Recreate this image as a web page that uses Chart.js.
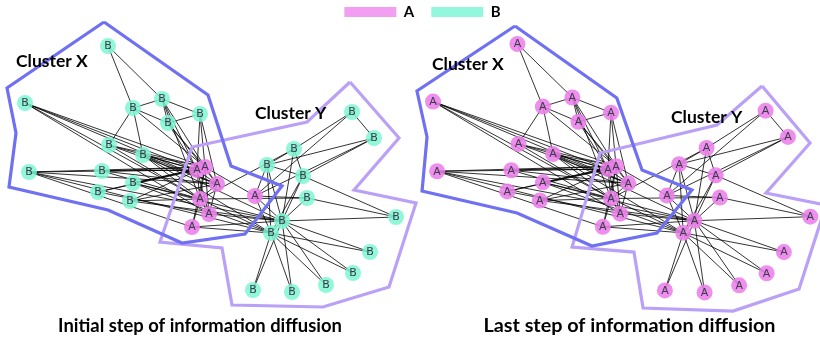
<!DOCTYPE html>
<html>
<head>
<meta charset="utf-8">
<script src="https://cdn.jsdelivr.net/npm/chart.js@4.4.1/dist/chart.umd.min.js"></script>
<style>
  html, body { margin: 0; padding: 0; background: #ffffff; }
  #wrap { width: 820px; height: 339px; }
</style>
</head>
<body>
<div id="wrap"><canvas id="net" width="820" height="339"></canvas></div>
<script>
// Node layout (34 members of the network), shared by both panels
const nodeIds = [0,1,2,3,4,5,6,7,8,9,10,11,12,13,14,15,16,17,18,19,20,21,22,23,24,25,26,27,28,29,30,31,32,33];
const nodeX = [205,197,200,217,200,133,162,25,192,133,168,98,130,209,253,292,108,109,326,143,353,102,370,267,352,374,396,294,307,303,29,255,271,282];
const nodeY = [167,170,199,184,114,108,99,103,227,183,123,192,201,214,290,292,46,145,285,155,273,171,252,165,112,138,217,149,198,176,172,196,233,221];

// Opinion held by each node at the first and at the last step
const initialState = ['A','A','A','A','B','B','B','B','A','B','B','B','B','A','B','B','B','B','B','B','B','B','B','B','B','B','B','B','B','B','B','A','B','B'];
const finalState   = ['A','A','A','A','A','A','A','A','A','A','A','A','A','A','A','A','A','A','A','A','A','A','A','A','A','A','A','A','A','A','A','A','A','A'];

// Undirected links between nodes
const edges = [
  [0,1],[0,2],[0,3],[0,4],[0,5],[0,6],[0,7],[0,8],[0,9],[0,10],[0,11],[0,12],[0,13],[0,17],[0,19],[0,21],[0,30],[0,31],
  [1,2],[1,3],[1,4],[1,6],[1,7],[1,9],[1,10],[1,11],[1,13],[1,17],[1,19],[1,21],[1,30],
  [2,3],[2,6],[2,7],[2,8],[2,9],[2,12],[2,13],[2,17],[2,19],[2,21],[2,27],[2,28],[2,32],
  [3,4],[3,7],[3,10],[3,12],[3,13],[3,17],[3,19],[3,21],[3,30],
  [4,6],[4,10],
  [5,6],[5,10],[5,16],[5,17],[5,19],
  [6,10],[6,16],
  [7,13],
  [8,30],[8,32],[8,33],
  [9,32],[9,33],
  [11,13],
  [12,33],
  [13,33],
  [14,32],[14,33],[15,32],[15,33],[18,32],[18,33],
  [19,32],[19,33],
  [20,32],[20,33],[22,32],[22,33],
  [23,25],[23,27],[23,29],[23,31],[23,32],[23,33],
  [24,25],[24,27],[24,31],
  [25,29],[25,31],
  [26,28],[26,29],[26,33],
  [27,29],[27,33],
  [28,31],[28,33],
  [29,32],[29,33],
  [30,32],[30,33],
  [31,32],[31,33],
  [32,33]
];

// Community outlines (vertices in each panel's own layout units)
const clusterXInitial = [[104,22],[208,95],[231,166],[282,186],[245,234],[182,243],[108,210],[9,187],[16,133],[7,88]];
const clusterYInitial = [[350,82],[399,138],[354,190],[416,203],[389,287],[323,307],[232,305],[222,248],[160,242],[192,147],[307,122]];
const clusterXLast = [[105.6,28.2],[205.7,99.5],[230.5,170.8],[279.6,190.6],[245.2,233.2],[181.3,246],[107.6,213.4],[14.2,191.6],[19.1,138.1],[9.2,92.6]];
const clusterYLast = [[348.5,87.6],[395.7,144.1],[352.4,193.6],[411.4,205.4],[384.9,288.6],[320,310.4],[231.5,307.4],[222.6,252],[161.7,247],[189.2,154],[304.2,126.2]];

const stateNames = ['A', 'B'];

// ---- styling ----
const FONT = 'Lato, "Open Sans", "Liberation Sans", sans-serif';
const nodeColor = { A: 'rgba(236,128,236,0.88)', B: 'rgba(124,246,210,0.85)' };
const legendColor = { A: '#f29ff2', B: '#93f7dd' };
const blueOutline = 'rgb(112,112,242)';
const purpleOutline = 'rgb(186,160,246)';
const edgeColor = 'rgba(0,0,0,0.8)';

function nodePoints(states, want) {
  const pts = [];
  nodeIds.forEach((id, i) => {
    if (states[i] === want) pts.push({ x: nodeX[i], y: nodeY[i], s: states[i] });
  });
  return pts;
}

function edgePoints() {
  const pts = [];
  edges.forEach(([a, b]) => {
    pts.push({ x: nodeX[a], y: nodeY[a] });
    pts.push({ x: nodeX[b], y: nodeY[b] });
    pts.push({ x: null, y: null });
  });
  return pts;
}

function outline(vertices) {
  const pts = vertices.map(([x, y]) => ({ x, y }));
  pts.push({ x: vertices[0][0], y: vertices[0][1] });
  return pts;
}

function outlineDataset(vertices, color, xAxisID, yAxisID) {
  return {
    type: 'scatter', data: outline(vertices), showLine: true, spanGaps: false,
    borderColor: color, borderWidth: 3.2, pointRadius: 0, borderJoinStyle: 'miter',
    clip: false, xAxisID, yAxisID
  };
}

function edgeDataset(xAxisID, yAxisID) {
  return {
    type: 'scatter', data: edgePoints(), showLine: true, spanGaps: false,
    borderColor: edgeColor, borderWidth: 1, pointRadius: 0,
    clip: false, xAxisID, yAxisID
  };
}

function nodeDatasets(states, xAxisID, yAxisID) {
  return stateNames
    .map(s => ({
      label: s, type: 'scatter', data: nodePoints(states, s), isNode: true,
      pointRadius: 8, pointBackgroundColor: nodeColor[s], pointBorderWidth: 0,
      clip: false, xAxisID, yAxisID
    }))
    .filter(d => d.data.length > 0);
}

// Datasets earlier in the list are painted on top
const datasets = [
  outlineDataset(clusterXInitial, blueOutline, 'x', 'y'),
  outlineDataset(clusterYInitial, purpleOutline, 'x', 'y'),
  outlineDataset(clusterXLast, blueOutline, 'x2', 'y2'),
  outlineDataset(clusterYLast, purpleOutline, 'x2', 'y2'),
  ...nodeDatasets(initialState, 'x', 'y'),
  ...nodeDatasets(finalState, 'x2', 'y2'),
  edgeDataset('x', 'y'),
  edgeDataset('x2', 'y2')
];

// Writes A / B inside every node
const nodeLabelPlugin = {
  id: 'nodeLabels',
  afterDatasetsDraw(chart) {
    const ctx = chart.ctx;
    ctx.save();
    ctx.font = '11px "DejaVu Sans", sans-serif';
    ctx.fillStyle = '#3b3b4a';
    ctx.textAlign = 'center';
    ctx.textBaseline = 'middle';
    chart.data.datasets.forEach((ds, di) => {
      if (!ds.isNode) return;
      chart.getDatasetMeta(di).data.forEach((el, i) => {
        ctx.fillText(ds.data[i].s, el.x, el.y + 0.5);
      });
    });
    ctx.restore();
  }
};

// Cluster names and panel captions
const captions = [
  { text: 'Cluster X', x: 16,  y: 66.5, align: 'left', size: 17.5 },
  { text: 'Cluster Y', x: 255, y: 119,  align: 'left', size: 17.5 },
  { text: 'Cluster X', x: 432, y: 70,   align: 'left', size: 17.5 },
  { text: 'Cluster Y', x: 671, y: 122.5, align: 'left', size: 17.5 },
  { text: 'Initial step of information diffusion', x: 200, y: 332, align: 'center', size: 18.4 },
  { text: 'Last step of information diffusion', x: 629.5, y: 332, align: 'center', size: 19.8 }
];
const captionPlugin = {
  id: 'captions',
  afterDraw(chart) {
    const ctx = chart.ctx;
    ctx.save();
    ctx.fillStyle = '#000000';
    ctx.textBaseline = 'alphabetic';
    captions.forEach(c => {
      ctx.font = 'bold ' + c.size + 'px ' + FONT;
      ctx.textAlign = c.align;
      ctx.fillText(c.text, c.x, c.y);
    });
    ctx.restore();
  }
};

// Places the legend row above the middle of both panels
const legendOffsetPlugin = {
  id: 'legendOffset',
  afterLayout(chart) {
    const lg = chart.legend;
    if (!lg) return;
    lg.left += 12.5; lg.right += 12.5;
    lg.top = -12.5; lg.bottom = 40;
    lg.height = lg.bottom - lg.top;
  }
};

new Chart(document.getElementById('net'), {
  type: 'scatter',
  data: { datasets },
  options: {
    responsive: false,
    animation: false,
    events: [],
    layout: { padding: 0, autoPadding: false },
    scales: {
      x:  { type: 'linear', min: 0, max: 820, display: false },
      y:  { type: 'linear', min: 0, max: 339, reverse: true, display: false },
      x2: { type: 'linear', axis: 'x', min: -400.8, max: 405.5, display: false },
      y2: { type: 'linear', axis: 'y', min: 2.475, max: 338.1, reverse: true, display: false }
    },
    plugins: {
      tooltip: { enabled: false },
      legend: {
        position: 'top',
        align: 'center',
        maxHeight: 0.01,
        labels: {
          boxWidth: 52,
          boxHeight: 10,
          padding: 17,
          color: '#000000',
          font: { family: FONT, size: 15, weight: 'bold' },
          generateLabels: () => stateNames.map(s => ({
            text: s, fillStyle: legendColor[s], strokeStyle: legendColor[s],
            lineWidth: 0, hidden: false
          }))
        }
      }
    }
  },
  plugins: [nodeLabelPlugin, captionPlugin, legendOffsetPlugin]
});
</script>
</body>
</html>
